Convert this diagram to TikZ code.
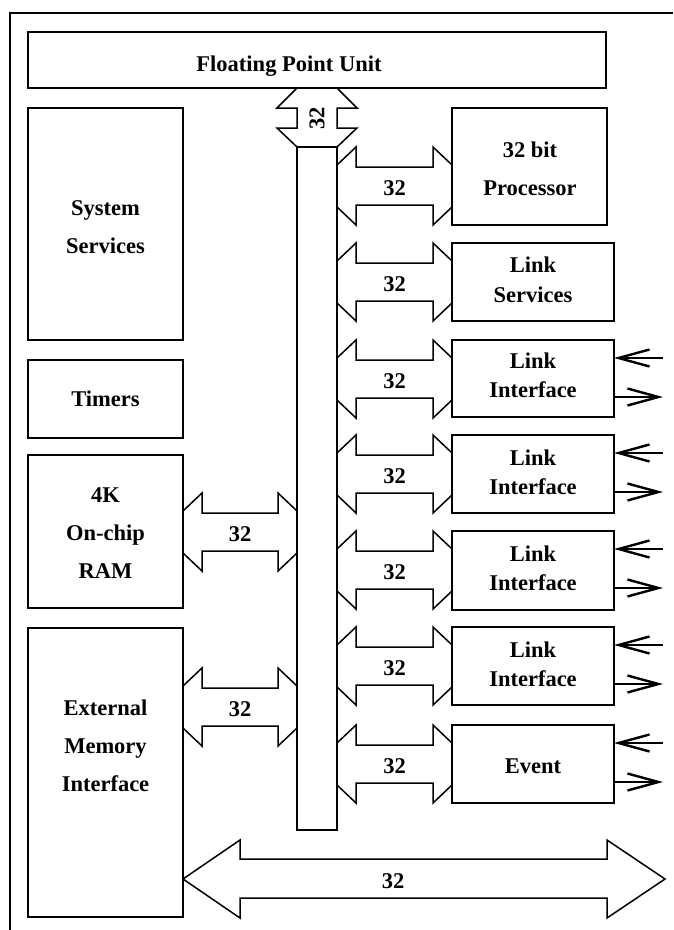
\documentclass[tikz,border=0pt]{standalone}
\usepackage{fontspec}
\setmainfont{Liberation Serif}
\usetikzlibrary{arrows.meta}

% fat double-headed bus arrow between two x positions, top edge at y
\newcommand{\hbusarrow}[3]{%
  \draw[fat] (#1,#3+18) -- (#1+19,#3) -- (#1+19,#3+20) -- (#2-19,#3+20) -- (#2-19,#3) -- (#2,#3+18);
  \draw[fat] (#1,#3+60) -- (#1+19,#3+78) -- (#1+19,#3+58) -- (#2-19,#3+58) -- (#2-19,#3+78) -- (#2,#3+60);
}

\begin{document}
\begin{tikzpicture}[x=1pt,y=-1pt,
  box/.style={draw, line width=1.8, inner sep=0, outer sep=0},
  lbl/.style={font=\bfseries\fontsize{22.5}{38}\selectfont, align=center, inner sep=0, anchor=base},
  fat/.style={line width=1.5, line join=miter},
  sig/.style={line width=2.4, -{Straight Barb[length=31pt,width=17pt]}}]

\useasboundingbox (0,0) rectangle (673,930);

% frame
\draw[line width=2] (10,930) -- (10,13) -- (673,13);

% functional blocks
\node[box, minimum width=578, minimum height=56]  (fpu)    at (317,60) {};
\node[box, minimum width=155, minimum height=232] (sys)    at (105.5,224) {};
\node[box, minimum width=155, minimum height=78]  (timers) at (105.5,399) {};
\node[box, minimum width=155, minimum height=153] (ram)    at (105.5,531.5) {};
\node[box, minimum width=155, minimum height=289] (emi)    at (105.5,772.5) {};
\node[box, minimum width=155, minimum height=117] (proc)   at (529.5,166.5) {};
\node[box, minimum width=162, minimum height=78]  (lsvc)   at (533,282) {};
\node[box, minimum width=162, minimum height=77]  (lia)    at (533,378.5) {};
\node[box, minimum width=162, minimum height=78]  (lib)    at (533,474) {};
\node[box, minimum width=162, minimum height=79]  (lic)    at (533,570.5) {};
\node[box, minimum width=162, minimum height=78]  (lid)    at (533,666) {};
\node[box, minimum width=162, minimum height=78]  (event)  at (533,764) {};

% internal bus
\node[box, line width=1.5, minimum width=40, minimum height=683] (bus) at (317,488.5) {};

% block titles (placed by the baseline of their last line)
\node[lbl] (tfpu)   at (289,71)    {Floating Point Unit};
\node[lbl] (tsys)   at (105.5,253) {System\\Services};
\node[lbl] (ttim)   at (105.5,406) {Timers};
\node[lbl] (tram)   at (105.5,578) {4K\\On-chip\\RAM};
\node[lbl] (temi)   at (105.5,791) {External\\Memory\\Interface};
\node[lbl] (tproc)  at (530,195)   {32 bit\\Processor};
\node[lbl, font=\bfseries\fontsize{22.5}{30}\selectfont] (tlsvc) at (533,302) {Link\\Services};
\node[lbl, font=\bfseries\fontsize{22.5}{29}\selectfont] (tlia)  at (533,397) {Link\\Interface};
\node[lbl, font=\bfseries\fontsize{22.5}{29}\selectfont] (tlib)  at (533,494) {Link\\Interface};
\node[lbl, font=\bfseries\fontsize{22.5}{29}\selectfont] (tlic)  at (533,590) {Link\\Interface};
\node[lbl, font=\bfseries\fontsize{22.5}{29}\selectfont] (tlid)  at (533,686) {Link\\Interface};
\node[lbl] (tevent) at (533,773)   {Event};

% FPU to bus
\draw[fat] (297,88) -- (277,108) -- (297,108) -- (297,128) -- (277,128) -- (297,147);
\draw[fat] (337,88) -- (357,108) -- (337,108) -- (337,128) -- (357,128) -- (337,147);
\node[font=\bfseries\fontsize{22.5}{38}\selectfont, inner sep=0, rotate=90] (wfpu) at (317,118) {32};

% bus to the right-hand blocks
\hbusarrow{337}{452}{147}
\hbusarrow{337}{452}{243}
\hbusarrow{337}{452}{340}
\hbusarrow{337}{452}{435}
\hbusarrow{337}{452}{531}
\hbusarrow{337}{452}{627}
\hbusarrow{337}{452}{725}
\foreach \t/\n in {147/wproc,243/wlsvc,340/wlia,435/wlib,531/wlic,627/wlid,725/wevent}
  \node[lbl] (\n) at (394.5,\t+48) {32};

% bus to memory
\hbusarrow{183}{297}{493}
\hbusarrow{183}{297}{668}
\node[lbl] (wram) at (240,541) {32};
\node[lbl] (wemi) at (240,716) {32};

% external bus
\draw[fat] (183,879) -- (240,840) -- (240,859) -- (607,859) -- (607,840) -- (665,879)
  -- (607,918) -- (607,898) -- (240,898) -- (240,918) -- cycle;
\node[lbl] (wext) at (393,888) {32};

% serial link and event signals
\foreach \b/\y in {lia/340,lib/435,lic/531,lid/627,event/725}{
  \coordinate (\b-in)  at (663,\y+18);
  \coordinate (\b-out) at (663,\y+57);
  \draw[sig] (\b-in) -- (\b-in -| \b.east);
  \draw[sig] (\b-out -| \b.east) -- (\b-out);
}
\end{tikzpicture}
\end{document}
